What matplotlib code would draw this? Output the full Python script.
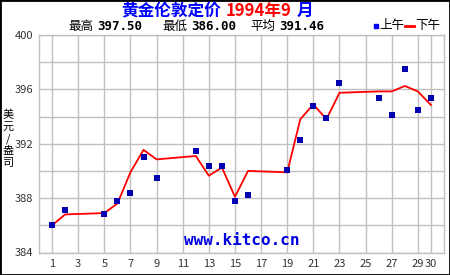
import numpy as np
import matplotlib
matplotlib.use("Agg")
import matplotlib.pyplot as plt
from matplotlib.patches import Rectangle

plt.rcParams['font.family'] = ['Noto Sans CJK SC', 'DejaVu Sans']

# London gold fix, September 1994 (USD / oz)
am_days = [1, 2, 5, 6, 7, 8, 9, 12, 13, 14, 15, 16, 19, 20, 21, 22, 23, 26, 27, 28, 29, 30]
am_price = [386.00, 387.10, 386.85, 387.80, 388.40, 391.00, 389.50, 391.50, 390.40, 390.40,
            387.80, 388.25, 390.10, 392.25, 394.75, 393.90, 396.50, 395.40, 394.15, 397.50,
            394.45, 395.35]
pm_days = am_days
pm_price = [386.00, 386.80, 386.90, 387.60, 389.90, 391.55, 390.85, 391.10, 389.65, 390.25,
            388.10, 390.00, 389.90, 393.80, 394.90, 393.80, 395.75, 395.85, 395.85, 396.25,
            395.85, 394.85]
xticks = [1, 3, 5, 7, 9, 11, 13, 15, 17, 19, 21, 23, 25, 27, 29, 30]
yticks = [384, 388, 392, 396, 400]

stats = [("最高", "397.50"), ("最低", "386.00"), ("平均", "391.46")]

W, H = 450, 275
fig = plt.figure(figsize=(W / 100, H / 100), dpi=100)
fig.patch.set_facecolor("white")
renderer = fig.canvas.get_renderer()

ax = fig.add_axes([39 / W, 1 - 252.5 / H, 405 / W, 217.5 / H])
grid_c = "#c0c0c0"
ax.set_xlim(0, 31)
ax.set_ylim(384, 400)
ax.set_xticks(xticks)
ax.set_yticks(yticks)
ax.set_yticks(np.arange(384, 401, 2), minor=True)
ax.grid(True, which="both", color=grid_c, lw=1)
ax.tick_params(which="both", length=0, labelsize=8, colors="#333333", pad=4)
ax.tick_params(axis="x", pad=5)
for s in ax.spines.values():
    s.set_color(grid_c)
    s.set_linewidth(1)
ax.set_axisbelow(True)

ax.plot(pm_days, pm_price, color="#ff0000", lw=1.3, zorder=3)
ax.scatter(am_days, am_price, marker="s", s=16, color="#0000b0", zorder=4, linewidths=0)

ax.text(0.5, 0.02, "www.kitco.cn", transform=ax.transAxes, ha="center", va="bottom",
        color="#0000e0", fontsize=11.5, fontweight="bold", family="DejaVu Sans Mono")


def chain(parts, x0, y0, gap=0, **kw):
    # place text pieces one after another on a shared baseline (pixel coords)
    x = x0
    for txt, style in parts:
        t = fig.text(x / W, 1 - y0 / H, txt, va="baseline", ha="left", **style, **kw)
        x += t.get_window_extent(renderer).width + gap


# title
chain([("黄金伦敦定价", dict(color="#0000ff")),
       ("1994年9", dict(color="#ff0000")),
       ("月", dict(color="#0000ff"))],
      121, 16, gap=5, fontsize=12, fontweight="bold")

# statistics line
mono = dict(color="black", fontweight="bold", family="DejaVu Sans Mono")
for (lab, val), x0 in zip(stats, [68, 162, 250]):
    chain([(lab, dict(color="black")), (val, mono)], x0, 30, gap=4, fontsize=9)

# legend
fig.patches.append(Rectangle((374 / W, 1 - 28 / H), 4 / W, 4 / H, transform=fig.transFigure,
                             color="#0000ff", figure=fig))
fig.text(379 / W, 1 - 26 / H, "上午", fontsize=9, va="center", ha="left")
fig.lines.append(plt.Line2D([405 / W, 414 / W], [1 - 26 / H, 1 - 26 / H],
                            transform=fig.transFigure, color="#ff0000", lw=2, figure=fig))
fig.text(415 / W, 1 - 26 / H, "下午", fontsize=9, va="center", ha="left")

# y label stacked
for i, ch in enumerate("美元/盎司"):
    fig.text(8 / W, 1 - (115 + 12 * i) / H, ch, fontsize=8, va="center", ha="center")

# outer frame
fig.patches.append(Rectangle((0, 0), 1, 1, transform=fig.transFigure, fill=False,
                             edgecolor="black", lw=2, figure=fig))

fig.savefig("out.png", dpi=100)
